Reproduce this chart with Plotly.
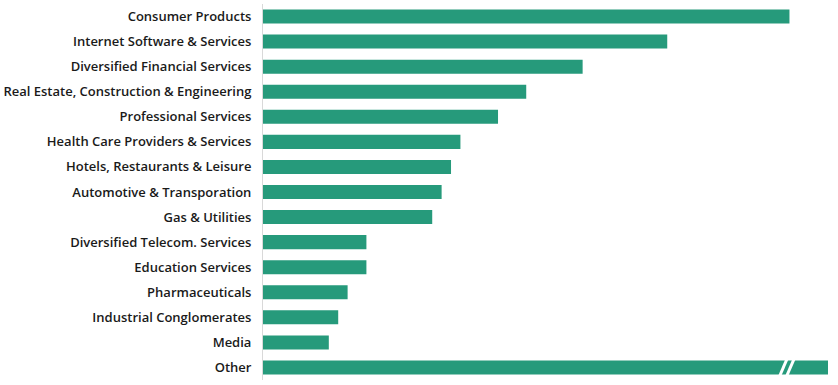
import plotly.graph_objects as go

categories = [
    "Consumer Products",
    "Internet Software & Services",
    "Diversified Financial Services",
    "Real Estate, Construction & Engineering",
    "Professional Services",
    "Health Care Providers & Services",
    "Hotels, Restaurants & Leisure",
    "Automotive & Transporation",
    "Gas & Utilities",
    "Diversified Telecom. Services",
    "Education Services",
    "Pharmaceuticals",
    "Industrial Conglomerates",
    "Media",
    "Other",
]
values = [56, 43, 34, 28, 25, 21, 20, 19, 18, 11, 11, 9, 8, 7, 80]

axis_max = 60.1  # axis is cut here; "Other" is drawn broken
bar_color = "#269a7b"

fig = go.Figure(
    go.Bar(
        x=values,
        y=categories,
        orientation="h",
        marker=dict(color=bar_color, line=dict(width=0)),
        hoverinfo="x+y",
    )
)

# break marks on the "Other" bar (white slashes), in data coordinates
other_idx = len(categories) - 1
for xb in (55.35, 56.1):
    fig.add_shape(
        type="line",
        xref="x", yref="y",
        x0=xb - 0.38, x1=xb + 0.38,
        y0=other_idx + 0.33, y1=other_idx - 0.33,
        line=dict(color="white", width=3),
        layer="above",
    )

fig.update_layout(
    width=838,
    height=385,
    margin=dict(l=263, r=10, t=4, b=5, autoexpand=False),
    paper_bgcolor="white",
    plot_bgcolor="white",
    bargap=0.44,
    showlegend=False,
    font=dict(family="Open Sans", size=13, color="#1a1a1a", weight=600),
)
fig.update_xaxes(
    range=[0, axis_max],
    showgrid=False,
    zeroline=False,
    showticklabels=False,
    showline=False,
    ticks="",
    automargin=False,
)
fig.update_yaxes(
    categoryorder="array",
    categoryarray=categories,
    autorange="reversed",
    showgrid=False,
    zeroline=False,
    showline=True,
    linecolor="#d9d9d9",
    linewidth=1,
    ticks="",
    ticklabelstandoff=8,
    automargin=False,
    tickfont=dict(family="Open Sans", size=13, color="#1a1a1a", weight=600),
)

fig.write_html(
    "out.html",
    config={"displayModeBar": False},
    post_script="document.body.style.margin='0';document.body.style.padding='0';",
)
